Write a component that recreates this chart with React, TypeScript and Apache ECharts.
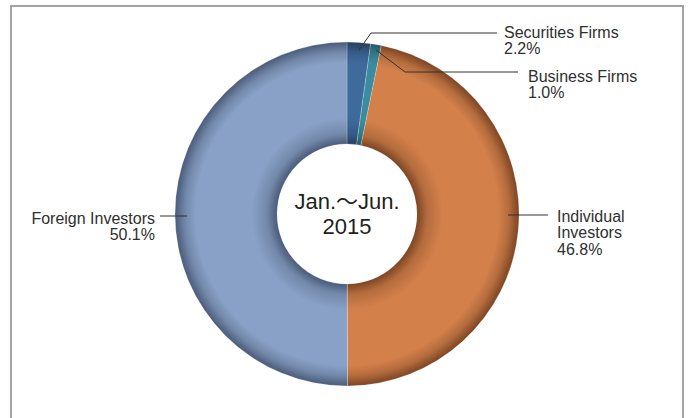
import React, { useEffect, useRef } from 'react';
import * as echarts from 'echarts';

// ---- data ----
const categories = ['Securities Firms', 'Business Firms', 'Individual Investors', 'Foreign Investors'];
const labelNames = ['Securities Firms', 'Business Firms', 'Individual\nInvestors', 'Foreign Investors'];
const shares = [2.2, 1.0, 46.8, 50.1];
const centerText = 'Jan.～Jun.\n2015';

// ---- styles / layout ----
const CX = 347;
const CY = 214;
const R_IN = 70;
const R_OUT = 172;
const FONT = "'Liberation Sans', Arial, 'Noto Sans CJK JP', sans-serif";

const baseColors = ['#3f6a9c', '#3a8d9f', '#d3804b', '#89a1c6'];
const midColors = ['#365c88', '#327a8a', '#b56c3d', '#7389ab'];
const darkColors = ['#263f5e', '#245a66', '#7c4524', '#4b5b79'];

// label placement (text anchor and leader line points)
const labelLayoutCfg = [
  { tx: 504, ty: 24, align: 'left', line: [[359, 50], [371, 33], [497, 33]] },
  { tx: 528, ty: 68, align: 'left', line: [[376, 50], [405, 72], [518, 72]] },
  { tx: 557, ty: 208, align: 'left', line: [[508, 215], [548, 215]] },
  { tx: 155, ty: 210, align: 'right', line: [[187, 216], [160, 216]] },
];

function ringGradient(i: number) {
  const k = R_IN / R_OUT;
  return new echarts.graphic.RadialGradient(
    CX,
    CY,
    R_OUT,
    [
      { offset: 0, color: darkColors[i] },
      { offset: k, color: darkColors[i] },
      { offset: k + 0.06, color: midColors[i] },
      { offset: k + 0.15, color: baseColors[i] },
      { offset: 0.88, color: baseColors[i] },
      { offset: 0.94, color: midColors[i] },
      { offset: 1, color: darkColors[i] },
    ],
    true
  );
}

export default function App() {
  const ref = useRef<HTMLDivElement>(null);
  useEffect(() => {
    document.body.style.margin = '0';
    const chart = echarts.init(ref.current!, null, { renderer: 'svg' });
    chart.setOption({
      animation: false,
      backgroundColor: '#ffffff',
      graphic: [
        {
          type: 'rect',
          shape: { x: 11, y: 6, width: 672, height: 500 },
          style: { fill: 'none', stroke: '#a3a3a3', lineWidth: 2 },
          silent: true,
          z: 0,
        },
        ...labelLayoutCfg.map((L) => ({
          type: 'polyline',
          shape: { points: L.line },
          style: { stroke: '#333333', lineWidth: 1, fill: 'none' },
          silent: true,
          z: 100,
        })),
        {
          type: 'text',
          x: CX,
          y: CY,
          z: 100,
          style: {
            text: centerText,
            font: `22px ${FONT}`,
            fill: '#231f20',
            align: 'center',
            verticalAlign: 'middle',
            lineHeight: 25,
          },
          silent: true,
        },
      ],
      series: [
        {
          type: 'pie',
          center: [CX, CY],
          radius: [R_IN, R_OUT],
          startAngle: 90,
          clockwise: true,
          avoidLabelOverlap: false,
          silent: true,
          emphasis: { disabled: true },
          itemStyle: { borderColor: 'rgba(255,255,255,0.35)', borderWidth: 0.6 },
          data: categories.map((c, i) => ({
            name: labelNames[i],
            value: shares[i],
            itemStyle: { color: ringGradient(i) },
          })),
          label: {
            show: true,
            position: 'outside',
            formatter: (p: any) => `${p.name}\n${Number(p.value).toFixed(1)}%`,
            fontSize: 16,
            lineHeight: 16.5,
            color: '#2f2f2f',
            fontFamily: FONT,
          },
          labelLine: { show: false },
          labelLayout: (params: any) => {
            const L = labelLayoutCfg[params.dataIndex];
            return {
              x: L.tx,
              y: L.ty,
              align: L.align,
              verticalAlign: 'top',
            };
          },
        },
      ],
    });
    return () => chart.dispose();
  }, []);
  return <div ref={ref} style={{ width: 691, height: 418 }} />;
}
